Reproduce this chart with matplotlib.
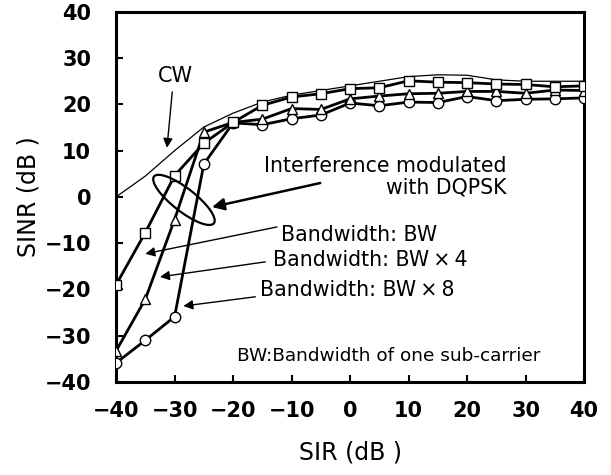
import matplotlib
matplotlib.use("Agg")
import matplotlib.pyplot as plt
import matplotlib.transforms as mtransforms
from matplotlib.patches import Ellipse

plt.rcParams['font.family'] = ['DejaVu Sans', 'Noto Sans CJK JP']

# Data
sir = [-40, -35, -30, -25, -20, -15, -10, -5, 0, 5, 10, 15, 20, 25, 30, 35, 40]
cw_sinr = [0, 4.5, 10, 15.1, 18.1, 20.5, 22.0, 23.0, 24.0, 25.0, 26.0, 26.4, 26.3, 25.3, 25.0, 25.0, 25.0]
bw1 = [-19.0, -7.7, 4.6, 11.6, 16.1, 19.8, 21.6, 22.3, 23.4, 23.6, 25.1, 24.8, 24.7, 24.4, 24.3, 23.8, 24.0]
bw4 = [-33.3, -22.1, -4.9, 14.0, 16.1, 16.8, 19.1, 18.9, 21.2, 21.8, 22.3, 22.4, 22.8, 22.8, 22.4, 23.1, 23.0]
bw8 = [-35.9, -31.0, -25.9, 7.1, 16.0, 15.6, 16.9, 17.7, 20.3, 19.7, 20.5, 20.4, 21.7, 20.8, 21.1, 21.2, 21.4]

xticks = [-40, -30, -20, -10, 0, 10, 20, 30, 40]
yticks = [-40, -30, -20, -10, 0, 10, 20, 30, 40]

fig = plt.figure(figsize=(6.11, 4.75), dpi=100)
ax = fig.add_axes([0.190, 0.196, 0.766, 0.779])

ax.plot(sir, cw_sinr, color='black', lw=0.9, zorder=2)
mk = dict(color='black', lw=2.0, markersize=7.5, markerfacecolor='white',
          markeredgecolor='black', markeredgewidth=1.0, zorder=3)
ax.plot(sir, bw8, marker='o', **mk)
ax.plot(sir, bw4, marker='^', **mk)
ax.plot(sir, bw1, marker='s', **mk)

ax.set_xlim(-40, 40)
ax.set_ylim(-40, 40)
ax.set_xticks(xticks)
ax.set_yticks(yticks)
ax.set_xticklabels([str(t).replace('-', '\u2212') for t in xticks])
ax.set_yticklabels([str(t).replace('-', '\u2212') for t in yticks])
ax.tick_params(direction='in', length=5, width=1.5, labelsize=15, pad=18,
               top=False, right=False)
ax.tick_params(axis='x', pad=14)
for lab in ax.get_xticklabels() + ax.get_yticklabels():
    lab.set_fontweight('bold')
for sp in ax.spines.values():
    sp.set_linewidth(2.2)

ax.set_xlabel('SIR (dB )', fontsize=17, labelpad=14)
ax.set_ylabel('SINR (dB )', fontsize=17, labelpad=3)

# Annotations
ax.text(-29.9, 26.2, 'CW', fontsize=15, ha='center', va='center')
ax.annotate('', xy=(-31.3, 10.6), xytext=(-30.4, 22.7),
            arrowprops=dict(arrowstyle='-|>', color='black', lw=1.0,
                            mutation_scale=14, shrinkA=0, shrinkB=0))

ax.text(26.8, 4.3, 'Interference modulated\nwith DQPSK', fontsize=14.8,
        ha='right', va='center', multialignment='right', linespacing=1.1)
ax.annotate('', xy=(-23.6, -2.2), xytext=(-5.1, 3.0),
            arrowprops=dict(arrowstyle='-|>', color='black', lw=1.8,
                            mutation_scale=18, shrinkA=0, shrinkB=0))

trans = fig.dpi_scale_trans + mtransforms.ScaledTranslation(-28.4, -0.65, ax.transData)
ell = Ellipse((0, 0), 0.76, 0.23, angle=-38, transform=trans,
              fill=False, edgecolor='black', lw=1.6, zorder=4)
ax.add_patch(ell)

labels = [('Bandwidth: BW', -11.8, -8.3, (-12.5, -6.5), (-35.0, -12.3)),
          ('Bandwidth: BW\u2009\u00d7\u20094', -13.1, -13.7, (-14.5, -14.05), (-32.5, -17.3)),
          ('Bandwidth: BW\u2009\u00d7\u20098', -15.4, -20.2, (-16.2, -21.6), (-28.5, -23.6))]
for txt, tx, ty, a0, a1 in labels:
    ax.text(tx, ty, txt, fontsize=14.8, ha='left', va='center')
    ax.annotate('', xy=a1, xytext=a0,
                arrowprops=dict(arrowstyle='-|>', color='black', lw=1.0,
                                mutation_scale=14, shrinkA=0, shrinkB=0))

ax.text(-19.4, -34.3, 'BW:Bandwidth of one sub-carrier', fontsize=13.3,
        ha='left', va='center')

fig.savefig('out.png', dpi=100)
